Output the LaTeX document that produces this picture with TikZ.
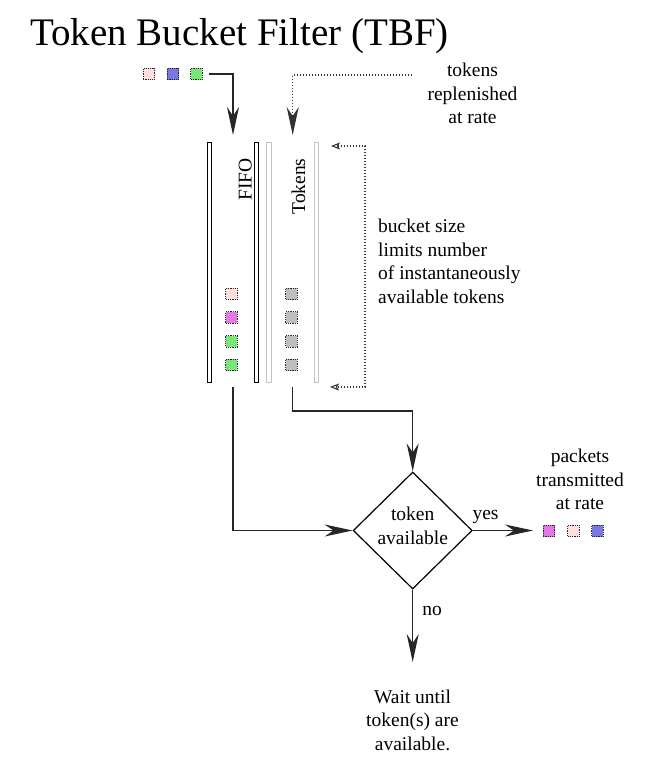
\documentclass[tikz,border=0pt]{standalone}
\usepackage{fontspec}
\setmainfont{Liberation Serif}
\usetikzlibrary{arrows.meta,shapes.geometric}
\definecolor{pkpink}{RGB}{255,222,222}
\definecolor{pkblue}{RGB}{120,120,230}
\definecolor{pkgreen}{RGB}{120,230,120}
\definecolor{pkmag}{RGB}{230,120,230}
\definecolor{pkgray}{RGB}{190,190,190}
\definecolor{bargray}{RGB}{195,195,195}
\begin{document}
\begin{tikzpicture}[x=1pt,y=-1pt,
  txt/.style={font=\fontsize{19.5}{23.5}\selectfont, align=center, inner sep=0pt},
  pkt/.style={draw=black!85, dash pattern=on 1.2pt off 1pt, line width=1pt, minimum size=11.5pt, inner sep=0pt},
  conn/.style={line width=1.2pt, draw=black!85},
  tiparrow/.style={-{Stealth[length=28pt,width=12pt,inset=9pt]}},
  dotconn/.style={line width=1.4pt, dash pattern=on 1.5pt off 1.5pt, draw=black!80},
  bar/.style={draw, line width=1pt, fill=white, minimum width=4.5pt, minimum height=240pt, inner sep=0pt},
  bothopen/.style={{Stealth[open,length=9pt,width=7pt,inset=2pt,fill=white,line width=1pt]}-{Stealth[open,length=9pt,width=7pt,inset=2pt,fill=white,line width=1pt]}}
]
\useasboundingbox (0,0) rectangle (666,771);

% title
\node[anchor=base west, font=\fontsize{39}{44}\selectfont, inner sep=0pt] (title) at (30,45) {Token Bucket Filter (TBF)};

% incoming packets
\node[pkt, fill=pkpink]  (in1) at (149,74) {};
\node[pkt, fill=pkblue]  (in2) at (173,74) {};
\node[pkt, fill=pkgreen] (in3) at (196.7,74) {};

% bars
\node[bar, draw=black] (fifol) at (209.5,262.5) {};
\node[bar, draw=black] (fifor) at (256.5,262.5) {};
\node[bar, draw=bargray] (tokl) at (269,262.5) {};
\node[bar, draw=bargray] (tokr) at (316.5,262.5) {};

\node[txt, rotate=90, anchor=base] (fifolbl) at (251.5,179.5) {FIFO};
\node[txt, rotate=90, anchor=base] (toklbl) at (305,186.5) {Tokens};

% queue contents
\node[pkt, fill=pkpink]  (f1) at (231.5,294) {};
\node[pkt, fill=pkmag]   (f2) at (231.5,317.7) {};
\node[pkt, fill=pkgreen] (f3) at (231.5,341.4) {};
\node[pkt, fill=pkgreen] (f4) at (231.5,365) {};
\node[pkt, fill=pkgray] (t1) at (291.5,294) {};
\node[pkt, fill=pkgray] (t2) at (291.5,317.7) {};
\node[pkt, fill=pkgray] (t3) at (291.5,341.4) {};
\node[pkt, fill=pkgray] (t4) at (291.5,365) {};

% texts
\node[txt, anchor=north] (repl) at (472.5,63) {tokens\\replenished\\at rate};
\node[txt, anchor=north west, align=left] (bucket) at (378,219) {bucket size\\limits number\\of instantaneously\\available tokens};
\node[txt, anchor=north] (sent) at (580,449) {packets\\transmitted\\at rate};

% decision
\node[draw, diamond, line width=1.2pt, minimum width=119pt, minimum height=117pt, inner sep=0pt] (dia) at (412.7,530.5) {};
\node[txt, anchor=north] (dialbl) at (412.7,507) {token\\available};
\node[txt, anchor=base] (yes) at (485.5,519) {yes};
\node[txt, anchor=base] (no) at (432,615) {no};
\node[txt, anchor=north] (wait) at (412.5,689.5) {Wait until\\token(s) are\\available.};

% outgoing packets
\node[pkt, fill=pkmag]  (o1) at (549,531) {};
\node[pkt, fill=pkpink] (o2) at (573.5,531) {};
\node[pkt, fill=pkblue] (o3) at (597.5,531) {};

% coordinates
\coordinate (fifoin) at (233,135);
\coordinate (tokin) at (292.7,135);
\coordinate (replstart) at (412,75);
\coordinate (btop) at (365,146);
\coordinate (bbot) at (365,387);
\coordinate (btoptip) at (331,146);
\coordinate (bbottip) at (330,387);
\coordinate (fifoout) at (233,387);
\coordinate (tokout) at (292.7,387);
\coordinate (turn) at (412.7,411);
\coordinate (outtip) at (533,530.5);
\coordinate (waittip) at (412.7,662);

% connectors
\draw[conn, tiparrow] ([xshift=6.5pt]in3.east) -| (fifoin);
\draw[dotconn, tiparrow] (replstart) -| (tokin);
\draw[dotconn, bothopen] (btoptip) -- (btop) -- (bbot) -- (bbottip);
\draw[conn, tiparrow] (fifoout) |- (dia.west);
\draw[conn, tiparrow] (tokout) |- (turn) -- (dia.north);
\draw[conn, tiparrow] (dia.east) -- (outtip);
\draw[conn, tiparrow] (dia.south) -- (waittip);
\end{tikzpicture}
\end{document}
